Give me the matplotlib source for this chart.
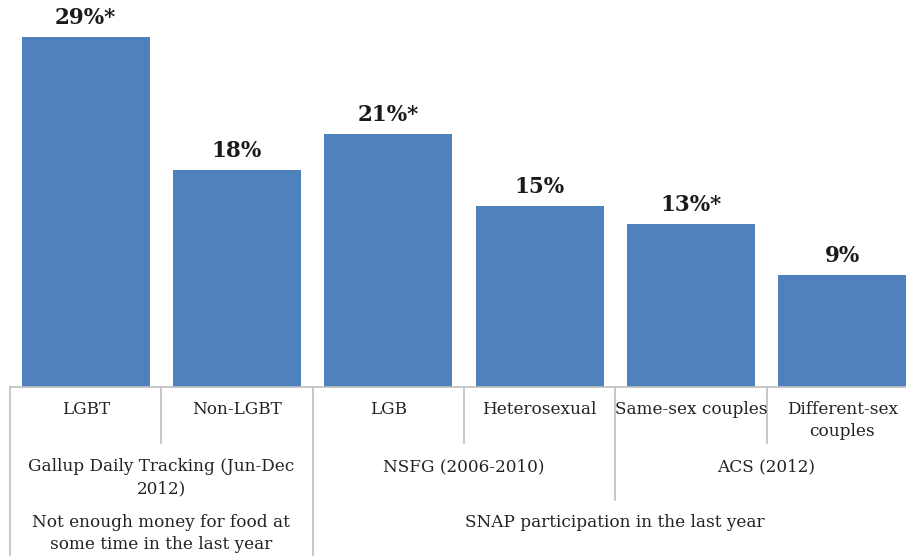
import matplotlib
matplotlib.use("Agg")
import matplotlib.pyplot as plt
from matplotlib.transforms import blended_transform_factory
from matplotlib.lines import Line2D

categories = ["LGBT", "Non-LGBT", "LGB", "Heterosexual", "Same-sex couples", "Different-sex\ncouples"]
values = [29, 18, 21, 15, 13.5, 9.3]
value_labels = ["29%*", "18%", "21%*", "15%", "13%*", "9%"]
sources = ["Gallup Daily Tracking (Jun-Dec\n2012)", "NSFG (2006-2010)", "ACS (2012)"]
source_spans = [(0, 1), (2, 3), (4, 5)]
measures = ["Not enough money for food at\nsome time in the last year", "SNAP participation in the last year"]
measure_spans = [(0, 1), (2, 5)]

W, H = 906, 556
fig = plt.figure(figsize=(W / 100, H / 100), dpi=100)
plt.rcParams['font.family'] = ['DejaVu Serif']

slot = 151.3
left_px = 10
base_px = 387
ax = fig.add_axes([left_px / W, (H - base_px) / H, 6 * slot / W, base_px / H])

bar_color = "#4F81BD"
x = list(range(len(values)))
bars = ax.bar(x, values, width=0.846, color=bar_color)
ax.set_xlim(-0.5, 5.5)
ax.set_ylim(0, 29 * base_px / (base_px - 37))
for s in ax.spines.values():
    s.set_visible(False)
ax.set_xticks([])
ax.set_yticks([])

for b, lab in zip(bars, value_labels):
    ax.annotate(lab, (b.get_x() + b.get_width() / 2, b.get_height()),
                xytext=(0, 5.5), textcoords="offset points", ha="center", va="bottom",
                fontsize=15.5, fontweight="bold", color="#1a1a1a")

tr = blended_transform_factory(ax.transData, fig.transFigure)
grid_color = "#BFBFBF"

def fy(py):
    return 1 - py / H

def vline(xd, y0, y1):
    fig.add_artist(Line2D([xd, xd], [fy(y0), fy(y1)], transform=tr, color=grid_color, lw=1.2))

# axis line
fig.add_artist(Line2D([-0.5, 5.6], [fy(base_px), fy(base_px)], transform=tr, color=grid_color, lw=1.2))

# separators
vline(-0.5, base_px, 556)
vline(0.5, base_px, 443)
vline(1.5, base_px, 556)
vline(2.5, base_px, 443)
vline(3.5, base_px, 500)
vline(4.5, base_px, 443)

txt_color = "#222222"
fs = 12.2
ls = 1.38
for i, c in enumerate(categories):
    fig.text(i, fy(401), c, transform=tr, ha="center", va="top", fontsize=fs,
             color=txt_color, linespacing=ls)

for s, (a, b) in zip(sources, source_spans):
    fig.text((a + b) / 2, fy(458), s, transform=tr, ha="center", va="top", fontsize=fs,
             color=txt_color, linespacing=ls)

for m, (a, b) in zip(measures, measure_spans):
    fig.text((a + b) / 2, fy(514), m, transform=tr, ha="center", va="top", fontsize=fs,
             color=txt_color, linespacing=ls)

fig.savefig("out.png", dpi=100)
